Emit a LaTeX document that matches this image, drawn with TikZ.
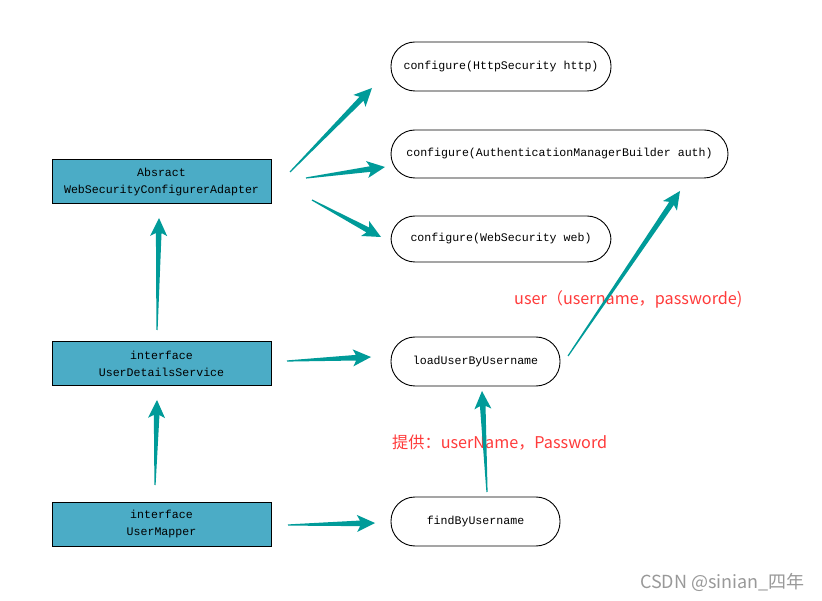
\documentclass[tikz,border=0pt]{standalone}
\usepackage{fontspec}
\setmonofont{Liberation Mono}
\newfontfamily\cjk{Noto Sans CJK SC}
\usetikzlibrary{calc}
\definecolor{boxteal}{HTML}{4BACC6}
\definecolor{arrteal}{HTML}{009B99}
\definecolor{labred}{HTML}{FF3B3B}
\newcommand\wedgearr[2]{%
  \path ($(#2)!15pt!(#1)$) coordinate (hb) ($(#2)!18pt!(#1)$) coordinate (hc);
  \fill[arrteal] ($(#1)!0.6pt!90:(#2)$) -- ($(hb)!2.8pt!90:(#2)$) -- ($(hc)!8.5pt!90:(#2)$) -- (#2)
     -- ($(hc)!8.5pt!-90:(#2)$) -- ($(hb)!2.8pt!-90:(#2)$) -- ($(#1)!0.6pt!-90:(#2)$) -- cycle;
}
\begin{document}
\begin{tikzpicture}[x=1pt,y=-1pt,
  tealbox/.style={draw=black,line width=1pt,fill=boxteal,minimum width=219pt,minimum height=44pt,
     align=center,inner sep=0pt,font=\ttfamily\fontsize{11.6}{16.5}\selectfont},
  pill/.style={draw=black,line width=0.9pt,rounded corners=24pt,minimum height=48pt,
     inner sep=0pt,font=\ttfamily\fontsize{11.6}{16}\selectfont},
  redlab/.style={anchor=west,inner sep=0pt,text=labred,font=\cjk\fontsize{16.2}{19}\selectfont}]
\useasboundingbox (0,0) rectangle (822,601);
\fill[white] (0,0) rectangle (822,601);
% boxes
\node[tealbox] (b1) at (161.5,182) {Absract\\WebSecurityConfigurerAdapter};
\node[tealbox] (b2) at (161.5,364) {interface\\UserDetailsService};
\node[tealbox] (b3) at (161.5,524) {interface\\UserMapper};
% pills
\node[pill,minimum width=220pt,minimum height=49pt] (p1) at (501,66.5) {configure(HttpSecurity http)};
\node[pill,minimum width=337pt] (p2) at (559.5,154) {configure(AuthenticationManagerBuilder auth)};
\node[pill,minimum width=220pt,minimum height=46pt] (p3) at (501,239) {configure(WebSecurity web)};
\node[pill,minimum width=169pt,minimum height=49pt] (p4) at (475.5,361.5) {loadUserByUsername};
\node[pill,minimum width=169pt,minimum height=49pt] (p5) at (475.5,521.5) {findByUsername};
% labels
\node[redlab] (l1) at (514,299) {user（username，passworde)};
\node[redlab] (l2) at (392,443) {提供：userName，Password};
\node[anchor=west,inner sep=0pt,text=black!40,font=\cjk\fontsize{18}{20}\selectfont] (wm) at (640,582) {CSDN @sinian\_四年};
% arrow endpoints
\coordinate (t1) at (290,172); \coordinate (h1) at (372,88);
\coordinate (t2) at (306,178); \coordinate (h2) at (385,167);
\coordinate (t3) at (312,200); \coordinate (h3) at (381,237);
\coordinate (t4) at (157,330); \coordinate (h4) at (159,218);
\coordinate (t5) at (287,361); \coordinate (h5) at (371,357);
\coordinate (t6) at (155,485); \coordinate (h6) at (157,400);
\coordinate (t7) at (288,525); \coordinate (h7) at (375,523);
\coordinate (t8) at (487,492); \coordinate (h8) at (482,391);
\coordinate (t9) at (568,356); \coordinate (h9) at (680,191);
\wedgearr{t1}{h1}
\wedgearr{t2}{h2}
\wedgearr{t3}{h3}
\wedgearr{t4}{h4}
\wedgearr{t5}{h5}
\wedgearr{t6}{h6}
\wedgearr{t7}{h7}
\wedgearr{t8}{h8}
\wedgearr{t9}{h9}
\end{tikzpicture}
\end{document}
